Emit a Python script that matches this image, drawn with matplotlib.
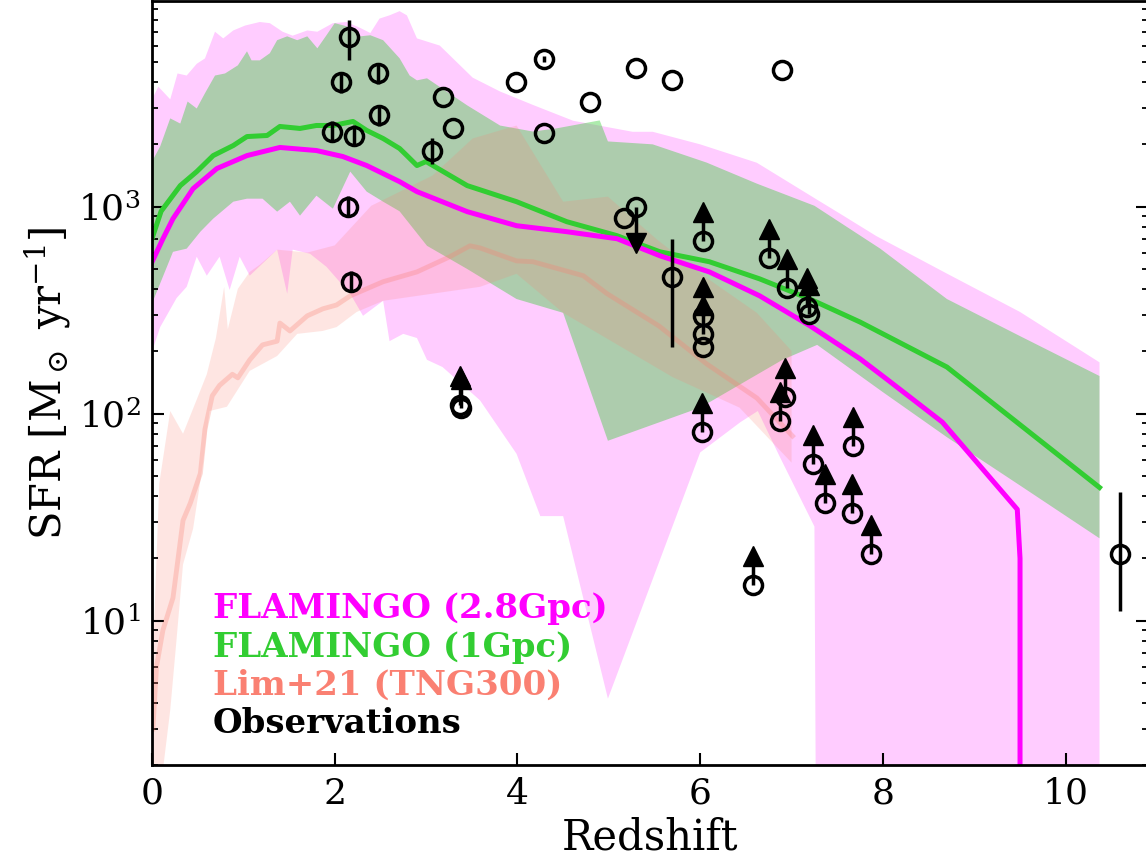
import numpy as np
import matplotlib
matplotlib.use('Agg')
import matplotlib.pyplot as plt

plt.rcParams['font.family'] = 'serif'
plt.rcParams['font.serif'] = ['DejaVu Serif']
plt.rcParams['mathtext.fontset'] = 'dejavuserif'

# FLAMINGO 2.8 Gpc: median and scatter band
fl28_z = [0.0, 0.12, 0.23, 0.45, 0.71, 1.04, 1.4, 1.8, 2.09, 2.35, 2.71, 2.9, 3.45, 3.99,
          4.54, 5.09, 5.56, 6.1, 6.65, 7.2, 7.75, 8.04, 8.65, 9.47, 9.5, 9.5]
fl28_sfr = [540, 700, 875, 1222, 1528, 1765, 1932, 1867, 1746, 1580, 1321, 1182, 946, 809,
            757, 700, 579, 484, 371, 266, 184, 147, 91, 34.5, 20, 0.01]
fl28_hi_z = [0, 0.07, 0.2, 0.28, 0.38, 0.49, 0.58, 0.69, 0.78, 0.89, 1.02, 1.18, 1.29, 1.43,
             1.54, 1.70, 1.81, 1.98, 2.13, 2.28, 2.39, 2.49, 2.60, 2.71, 2.79, 2.90, 3.15,
             3.51, 3.81, 4.17, 4.61, 5.26, 5.48, 6.0, 6.62, 7.28, 7.53, 7.93, 8.70, 9.50, 10.37]
fl28_hi = [3300, 3800, 3300, 4400, 4300, 4900, 5200, 7000, 6500, 7100, 7500, 7800, 7700, 7000,
           6700, 7100, 7000, 7700, 7800, 7300, 6900, 8100, 8400, 8800, 8400, 6500, 6000,
           4200, 3600, 3100, 2600, 2300, 2300, 2000, 1630, 1080, 925, 720, 475, 310, 177]
fl28_lo_z = [0, 0.09, 0.27, 0.38, 0.49, 0.6, 0.74, 0.85, 0.96, 1.07, 1.37, 1.48, 1.54, 1.73,
             1.91, 2.17, 2.31, 2.53, 2.6, 2.75, 2.9, 3.01, 3.18, 3.59, 3.99, 4.25, 4.5, 4.99,
             6.0, 6.44, 6.63, 6.87, 7.25, 7.27, 10.37]
fl28_lo = [199, 262, 362, 410, 573, 464, 573, 396, 573, 464, 620, 379, 620, 592,
           512, 379, 297, 351, 224, 243, 232, 182, 168, 116, 64, 32, 32, 4.2,
           65, 91, 103, 62, 28.5, 0.5, 0.5]

# FLAMINGO 1 Gpc
fl1_z = [0.0, 0.1, 0.31, 0.49, 0.67, 0.89, 1.04, 1.26, 1.4, 1.62, 1.8, 1.98, 2.2, 2.35, 2.53,
         2.71, 2.79, 2.9, 3.0, 3.45, 3.99, 4.54, 5.09, 5.56, 6.1, 6.65, 7.2, 7.75, 8.7, 10.37]
fl1_sfr = [700, 950, 1264, 1477, 1765, 1974, 2181, 2207, 2440, 2387, 2467, 2467, 2580, 2335, 2134,
           1910, 1765, 1580, 1652, 1264, 1057, 846, 724, 605, 542, 448, 358, 277, 168, 44]
fl1_hi_z = [0, 0.09, 0.2, 0.31, 0.39, 0.49, 0.58, 0.69, 0.8, 0.94, 1.04, 1.09, 1.18, 1.29,
            1.37, 1.48, 1.59, 1.7, 1.81, 1.91, 2.0, 2.13, 2.28, 2.39, 2.53, 2.71, 2.82, 2.9,
            3.01, 3.45, 3.81, 4.17, 4.43, 4.9, 4.99, 5.48, 6.07, 6.62, 7.25, 7.97, 8.7, 9.5, 10.37]
fl1_hi = [1650, 1955, 2670, 2520, 3220, 2980, 3530, 4300, 4400, 4815, 5630, 5090, 5090, 5510,
          6370, 6650, 6370, 6650, 5820, 6730, 7700, 7440, 6650, 6730, 6370, 5210, 4300, 4075,
          4170, 3085, 2465, 2306, 2390, 2610, 2066, 2000, 1633, 1292, 1010, 627, 358, 237, 152]
fl1_lo_z = [0, 0.23, 0.38, 0.53, 0.67, 0.89, 1.04, 1.21, 1.37, 1.51, 1.62, 1.8, 1.98, 2.17,
            2.35, 2.53, 2.71, 3.01, 3.45, 3.99, 4.5, 4.99, 6.0, 6.9, 7.28, 8.0, 8.7, 9.5, 10.37]
fl1_lo = [340, 605, 627, 757, 875, 1057, 1093, 1093, 946, 1057, 905, 1130, 978, 1477,
          1182, 1057, 950, 647, 500, 358, 307, 74, 107, 182, 215, 127, 77, 45, 25]

# Lim+21 (TNG300)
lim_z = [0.01, 0.05, 0.12, 0.23, 0.34, 0.42, 0.53, 0.58, 0.66, 0.74, 0.88, 0.94, 1.07, 1.21,
         1.37, 1.4, 1.51, 1.7, 1.87, 2.02, 2.17, 2.53, 2.9, 3.26, 3.48, 3.59, 3.99, 4.17,
         4.72, 4.98, 5.55, 6.07, 6.62, 7.01]
lim_sfr = [3, 6, 9, 12.9, 30.5, 37, 51.5, 84, 122, 137, 155, 149, 182, 215,
           224, 274, 251, 297, 321, 335, 371, 434, 484, 573, 647, 632, 547, 542,
           464, 380, 265, 174, 119, 78]
lim_hi_z = [0, 0.08, 0.2, 0.34, 0.49, 0.6, 0.7, 0.79, 0.83, 0.94, 1.07, 1.18, 1.37, 1.7, 2.0,
            2.4, 3.07, 3.51, 3.99, 4.5, 4.99, 5.53, 6.07, 6.62, 7.0]
lim_hi = [5, 46, 103, 80, 117, 155, 232, 410, 256, 401, 484, 524, 620, 600, 650,
          1010, 1413, 2135, 2465, 1057, 1118, 692, 453, 307, 201]
lim_lo_z = [0, 0.12, 0.2, 0.27, 0.34, 0.45, 0.56, 0.63, 0.82, 1.07, 1.37, 1.59, 1.87, 2.02,
            2.24, 2.53, 3.59, 3.99, 4.5, 5.7, 6.43, 7.0]
lim_lo = [1, 1.9, 3.7, 8.2, 18.7, 27.8, 58, 103, 108, 161, 190, 243, 251, 262,
          310, 351, 410, 474, 307, 150, 107, 58]

# Observations: detections with (lower, upper) error ends
obs_z = [2.16, 2.07, 2.47, 2.49, 1.97, 2.21, 2.15, 2.18, 3.07, 3.19, 3.29, 3.98, 4.29, 4.29,
         4.79, 5.30, 5.69, 6.89, 5.17, 5.69, 6.03, 10.59]
obs_sfr = [6575, 3985, 4400, 2760, 2306, 2206, 1000, 433, 1867, 3375, 2390, 3985, 5150, 2280,
           3190, 4660, 4075, 4560, 880, 458, 210, 21]
obs_lo = [5090, 3540, 3910, 2450, 2050, 1960, 890, 385, 1615, 3375, 2390, 3985, 4980, 2280,
          3190, 4660, 4075, 4560, 880, 210, 210, 11.1]
obs_hi = [7950, 4480, 4950, 3100, 2590, 2480, 1125, 487, 2135, 3375, 2390, 3985, 5320, 2280,
          3190, 4660, 4075, 4560, 880, 700, 210, 42]

# lower limits
ll_z = [3.37, 3.38, 6.03, 6.75, 6.95, 7.17, 7.19, 6.03, 6.03, 6.02, 6.93, 6.87, 7.67, 7.23,
        7.37, 7.66, 7.87, 6.58]
ll_sfr = [110, 106, 684, 566, 406, 328, 303, 297, 243, 82, 120, 92, 70, 57,
          37, 33, 21, 14.9]

# upper limits
ul_z = [5.30]
ul_sfr = [1000]

fig = plt.figure(figsize=(11.46, 8.63), dpi=100)
ax = fig.add_axes([0.1326, 0.1131, 0.8691, 0.8852])

ax.fill(np.concatenate([fl28_hi_z, fl28_lo_z[::-1]]), np.concatenate([fl28_hi, fl28_lo[::-1]]),
        color='magenta', alpha=0.2, lw=0)
ax.fill(np.concatenate([fl1_hi_z, fl1_lo_z[::-1]]), np.concatenate([fl1_hi, fl1_lo[::-1]]),
        color='limegreen', alpha=0.4, lw=0)
ax.fill(np.concatenate([lim_hi_z, lim_lo_z[::-1]]), np.concatenate([lim_hi, lim_lo[::-1]]),
        color='salmon', alpha=0.2, lw=0)
ax.plot(lim_z, lim_sfr, color='salmon', alpha=0.3, lw=3.5)
ax.plot(fl1_z, fl1_sfr, color='limegreen', lw=3.6)
ax.plot(fl28_z, fl28_sfr, color='magenta', lw=3.6)

# observations
obs_sfr_a = np.array(obs_sfr)
yerr = [obs_sfr_a - np.array(obs_lo), np.array(obs_hi) - obs_sfr_a]
ax.errorbar(obs_z, obs_sfr, yerr=yerr, fmt='o', ms=13, mfc='none', mec='k', mew=2.5,
            ecolor='k', elinewidth=2.5, capsize=0, zorder=5)
ll = np.array(ll_sfr)
ax.plot(ll_z, ll, 'o', ms=13, mfc='none', mec='k', mew=2.5, zorder=5)
ax.vlines(ll_z, ll, ll * 1.25, color='k', lw=2.5, zorder=5)
ax.plot(ll_z, ll * 1.38, '^', color='k', ms=15, ls='none', zorder=5)
ul = np.array(ul_sfr)
ax.plot(ul_z, ul, 'o', ms=13, mfc='none', mec='k', mew=2.5, zorder=5)
ax.vlines(ul_z, ul / 1.35, ul, color='k', lw=2.5, zorder=5)
ax.plot(ul_z, ul / 1.5, 'v', color='k', ms=15, ls='none', zorder=5)

ax.set_yscale('log')
ax.set_xlim(0, 10.9)
ax.set_ylim(2, 9800)
ax.set_xticks([0, 2, 4, 6, 8, 10])
ax.set_xlabel('Redshift', fontsize=30, labelpad=4)
ax.set_ylabel(r'SFR [M$_\odot$ yr$^{-1}$]', fontsize=30)
ax.tick_params(which='both', direction='in', right=True, top=False, labelsize=26)
ax.tick_params(which='major', length=8.5, width=1.5, pad=8)
ax.tick_params(which='minor', length=4, width=1.3)
for s in ax.spines.values():
    s.set_linewidth(2)

labels = ['FLAMINGO (2.8Gpc)', 'FLAMINGO (1Gpc)', 'Lim+21 (TNG300)', 'Observations']
colors = ['magenta', 'limegreen', 'salmon', 'black']
ypos = [0.193, 0.142, 0.0922, 0.0424]
for lab, c, yp in zip(labels, colors, ypos):
    ax.text(0.0612, yp, lab, color=c, fontsize=24.5, fontweight='bold',
            transform=ax.transAxes, va='baseline', ha='left')

fig.savefig('out.png', dpi=100)
